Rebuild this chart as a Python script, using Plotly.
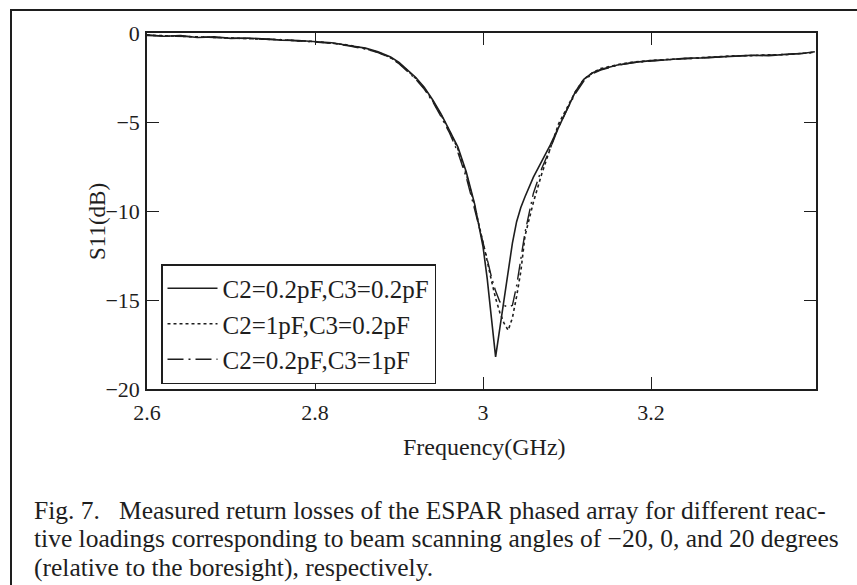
import plotly.graph_objects as go

# ---- data ----
freq_ghz = [2.600, 2.620, 2.640, 2.660, 2.680, 2.700, 2.720, 2.740, 2.760, 2.780,
            2.800, 2.820, 2.840, 2.860, 2.875, 2.890, 2.900, 2.910, 2.920, 2.930,
            2.940, 2.950, 2.960, 2.970, 2.980, 2.990, 3.000, 3.005, 3.010, 3.015,
            3.020, 3.025, 3.030, 3.035, 3.040, 3.045, 3.050, 3.060, 3.070, 3.080,
            3.090, 3.100, 3.110, 3.120, 3.130, 3.140, 3.160, 3.180, 3.200, 3.220,
            3.240, 3.260, 3.280, 3.300, 3.320, 3.340, 3.360, 3.380, 3.395]

s11_a = [-0.10, -0.18, -0.15, -0.25, -0.22, -0.30, -0.28, -0.35, -0.40, -0.42,
         -0.50, -0.55, -0.70, -0.85, -1.05, -1.35, -1.65, -2.05, -2.50, -3.05,
         -3.75, -4.55, -5.45, -6.40, -7.80, -9.60, -12.0, -13.8, -16.0, -18.2,
         -16.6, -15.0, -13.3, -11.8, -10.6, -9.8, -9.2, -8.1, -7.2, -6.3,
         -5.3, -4.3, -3.3, -2.6, -2.25, -2.05, -1.80, -1.65, -1.55, -1.50,
         -1.42, -1.40, -1.33, -1.30, -1.25, -1.28, -1.20, -1.15, -1.05]

s11_b = [-0.12, -0.15, -0.18, -0.22, -0.25, -0.28, -0.30, -0.33, -0.38, -0.44,
         -0.48, -0.57, -0.68, -0.88, -1.08, -1.38, -1.70, -2.10, -2.55, -3.10,
         -3.80, -4.60, -5.50, -6.50, -7.90, -9.70, -11.7, -12.8, -13.9, -14.9,
         -15.7, -16.3, -16.7, -16.0, -14.8, -13.4, -11.4, -9.5, -7.9, -6.5,
         -5.1, -4.2, -3.3, -2.6, -2.25, -2.00, -1.78, -1.62, -1.53, -1.48,
         -1.44, -1.38, -1.35, -1.28, -1.27, -1.22, -1.22, -1.12, -1.08]

s11_c = [-0.15, -0.16, -0.20, -0.21, -0.26, -0.27, -0.32, -0.34, -0.37, -0.45,
         -0.50, -0.58, -0.72, -0.90, -1.10, -1.40, -1.72, -2.15, -2.60, -3.15,
         -3.85, -4.70, -5.60, -6.70, -8.10, -9.90, -11.7, -12.7, -13.7, -14.5,
         -15.1, -15.3, -15.4, -15.3, -14.2, -12.6, -11.2, -9.0, -7.6, -6.5,
         -5.3, -4.3, -3.4, -2.7, -2.3, -2.08, -1.82, -1.66, -1.57, -1.50,
         -1.45, -1.40, -1.36, -1.31, -1.26, -1.25, -1.21, -1.16, -1.10]

series_names = ["C2=0.2pF,C3=0.2pF", "C2=1pF,C3=0.2pF", "C2=0.2pF,C3=1pF"]
x_tick_vals = [2.6, 2.8, 3.0, 3.2]
x_tick_text = ["2.6", "2.8", "3", "3.2"]
y_tick_vals = [0, -5, -10, -15, -20]
y_tick_text = ["0", "\u22125", "\u221210", "\u221215", "\u221220"]

caption_lines = [
    "Fig. 7.\u00a0\u00a0 Measured return losses of the ESPAR phased array for different reac-",
    "tive loadings corresponding to beam scanning angles of \u221220, 0, and 20 degrees",
    "(relative to the boresight), respectively.",
]

FONT = "Liberation Serif, Times New Roman, serif"
INK = "#1e1e1e"

fig = go.Figure()
fig.add_trace(go.Scatter(x=freq_ghz, y=s11_a, mode="lines", name=series_names[0],
                         line=dict(color=INK, width=1.6, dash="solid")))
fig.add_trace(go.Scatter(x=freq_ghz, y=s11_b, mode="lines", name=series_names[1],
                         line=dict(color=INK, width=1.6, dash="3px,3px")))
fig.add_trace(go.Scatter(x=freq_ghz, y=s11_c, mode="lines", name=series_names[2],
                         line=dict(color=INK, width=1.4, dash="16px,5px,2px,5px")))

L, R, T, B = 147, 41, 33, 196
W, H = 857, 585
pw, ph = W - L - R, H - T - B

def px_x(px):
    return (px - L) / pw

def px_y(py):
    return (H - B - py) / ph

annotations = [
    dict(text="Frequency(GHz)", xref="paper", yref="paper", x=px_x(484), y=px_y(447),
         xanchor="center", yanchor="middle", showarrow=False,
         font=dict(family=FONT, size=24, color=INK)),
    dict(text="S11(dB)", xref="paper", yref="paper", x=px_x(97), y=px_y(222),
         xanchor="center", yanchor="middle", showarrow=False, textangle=-90,
         font=dict(family=FONT, size=23, color=INK)),
]
for i, line in enumerate(caption_lines):
    annotations.append(dict(text=line, xref="paper", yref="paper", x=px_x(32),
                            y=px_y(510 + 28.5 * i), xanchor="left", yanchor="middle",
                            showarrow=False, font=dict(family=FONT, size=25.5, color=INK)))

fig.update_layout(
    width=W, height=H,
    margin=dict(l=L, r=R, t=T, b=B, pad=0),
    paper_bgcolor="white", plot_bgcolor="white",
    font=dict(family=FONT, color=INK, size=21),
    showlegend=True,
    legend=dict(x=px_x(161), y=px_y(264), xanchor="left", yanchor="top",
                bgcolor="white", bordercolor=INK, borderwidth=1.5,
                font=dict(family=FONT, size=25, color=INK),
                tracegroupgap=0, itemwidth=50),
    xaxis=dict(range=[2.6, 3.3964], tickvals=x_tick_vals, ticktext=x_tick_text,
               showgrid=False, zeroline=False, showline=True, linecolor=INK, linewidth=1.5,
               mirror="ticks", ticks="inside", ticklen=12, tickwidth=1.3, tickcolor=INK,
               ticklabelstandoff=3, tickfont=dict(size=22)),
    yaxis=dict(range=[-20, 0], tickvals=y_tick_vals, ticktext=y_tick_text,
               showgrid=False, zeroline=False, showline=True, linecolor=INK, linewidth=1.5,
               mirror="ticks", ticks="inside", ticklen=12, tickwidth=1.3, tickcolor=INK,
               ticklabelstandoff=1, tickfont=dict(size=22)),
    annotations=annotations,
    shapes=[
        dict(type="rect", xref="paper", yref="paper",
             x0=px_x(11), x1=px_x(880), y0=px_y(600), y1=px_y(10),
             line=dict(color=INK, width=2), fillcolor="rgba(0,0,0,0)", layer="below"),
    ],
)

fig.write_html("out.html")
